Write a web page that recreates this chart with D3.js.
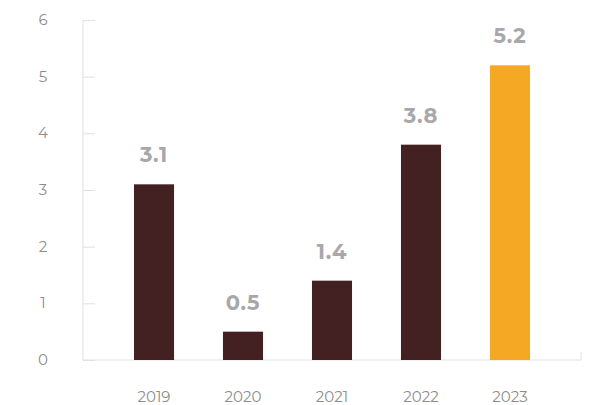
<!DOCTYPE html>
<html><head><meta charset="utf-8">
<script src="https://cdn.jsdelivr.net/npm/d3@7"></script>
<style>body{margin:0;background:#fff}svg{display:block;font-family:Montserrat,"Open Sans",Lato,sans-serif}</style>
</head><body><svg id="c" width="595" height="405"></svg>
<script>
const years = ["2019","2020","2021","2022","2023"];
const values = [3.1, 0.5, 1.4, 3.8, 5.2];
const yTicks = [0,1,2,3,4,5,6];
const highlight = "2023";

const svg = d3.select("#c");
const x0 = 83, x1 = 581, yTop = 20, yBot = 360;
const x = d3.scaleBand().domain(years).range([x0, x1]).paddingInner(0.55).paddingOuter(0.573);
const y = d3.scaleLinear().domain([0, 6]).range([yBot, yTop]);

// y axis
const ya = svg.append("g").attr("transform", `translate(${x0},0)`)
  .call(d3.axisRight(y).tickValues(yTicks).tickSize(12).tickFormat(""));
ya.select(".domain").attr("stroke", "#e0e0e0").attr("d", `M0,${yTop}V${yBot}`);
ya.selectAll(".tick line").attr("stroke", "#e0e0e0");
svg.append("g").selectAll("text").data(yTicks).join("text")
  .attr("x", 43).attr("y", d => y(d) + 5).attr("text-anchor", "middle")
  .attr("font-size", 15).attr("fill", "#8c8c8c").text(d => d);

// x axis
const xa = svg.append("g").attr("transform", `translate(0,${yBot})`)
  .call(d3.axisBottom(x).tickSize(0).tickPadding(0));
xa.select(".domain").attr("stroke", "#e0e0e0").attr("d", `M${x0},0H${x1}V-8`);
xa.selectAll(".tick text").attr("font-size", 15).attr("fill", "#8c8c8c")
  .attr("dy", 0).attr("y", 42).attr("font-family", "Montserrat,'Open Sans',Lato,sans-serif");

// bars
svg.append("g").selectAll("rect").data(years).join("rect")
  .attr("x", d => x(d)).attr("width", x.bandwidth())
  .attr("y", (d, i) => y(values[i])).attr("height", (d, i) => y(0) - y(values[i]))
  .attr("fill", d => d === highlight ? "#f5a823" : "#432021");

// value labels
svg.append("g").selectAll("text").data(years).join("text")
  .attr("x", d => x(d) + x.bandwidth() / 2).attr("y", (d, i) => y(values[i]) - 22)
  .attr("text-anchor", "middle").attr("font-size", 21).attr("font-weight", "bold")
  .attr("letter-spacing", 0.8)
  .attr("fill", "#a8a8ab").text((d, i) => values[i].toFixed(1));
</script></body></html>
